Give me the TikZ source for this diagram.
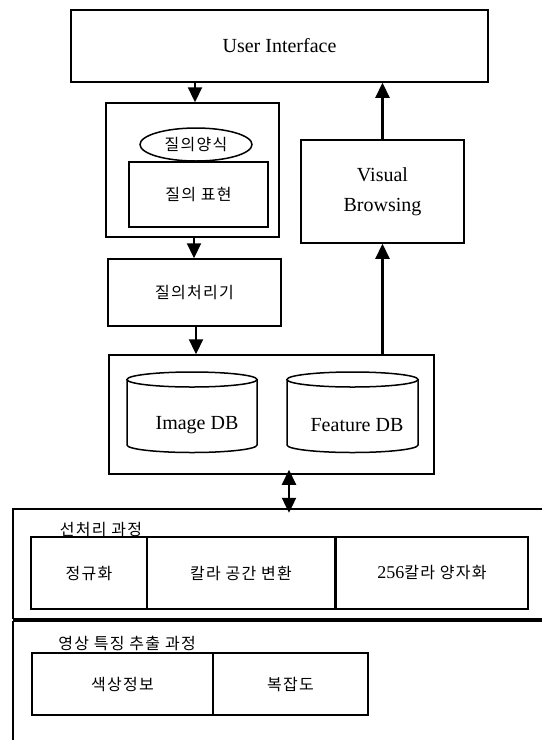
\documentclass[tikz,border=0pt]{standalone}
\usepackage{fontspec}
\setmainfont{Liberation Serif}
\newfontfamily\kr[LetterSpace=8]{Noto Sans CJK KR}
\usetikzlibrary{arrows.meta,shapes.geometric}
\begin{document}
\begin{tikzpicture}[x=1pt,y=-1pt,
  box/.style={draw,line width=1.5pt,inner sep=0pt},
  lat/.style={font=\fontsize{20}{30}\selectfont},
  kor/.style={font=\kr\fontsize{16}{20}\selectfont},
  arr/.style={line width=2.2pt,-{Triangle[length=15pt,width=14pt]}},
  darr/.style={line width=2.2pt,{Triangle[length=15pt,width=14pt]}-{Triangle[length=15pt,width=14pt]}},
  frame/.style={line width=1.5pt}]
\useasboundingbox (0,0) rectangle (542,740);
% top part
\node[box,lat,minimum width=417pt,minimum height=72pt] (ui) at (279.5,46) {User Interface};
\node[box,minimum width=173pt,minimum height=134pt] (q) at (192.5,170) {};
\node[box,kor,ellipse,minimum width=112pt,minimum height=33pt] (qform) at (196,144.5) {질의양식};
\node[box,kor,minimum width=139pt,minimum height=65pt] (qexpr) at (198.5,194.5) {질의 표현};
\node[box,lat,align=center,minimum width=163pt,minimum height=103pt] (vb) at (382.5,191.5) {Visual\\Browsing};
\node[box,kor,minimum width=173pt,minimum height=67pt] (qp) at (194.5,292.5) {질의처리기};
\node[box,minimum width=325pt,minimum height=119pt] (db) at (271.5,414.5) {};
% cylinders
\draw[frame] (192,379.5) ellipse [x radius=65, y radius=7.5];
\draw[frame] (127,379.5) -- (127,445) arc[start angle=180,end angle=0,x radius=65,y radius=7.5] -- (257,379.5);
\node[lat] (imgdb) at (197,425) {Image DB};
\draw[frame] (352.5,379.5) ellipse [x radius=65.5, y radius=7.5];
\draw[frame] (287,379.5) -- (287,445) arc[start angle=180,end angle=0,x radius=65.5,y radius=7.5] -- (418,379.5);
\node[lat] (featdb) at (357,425) {Feature DB};
% connectors
\coordinate (c1) at (195,0);
\coordinate (c3) at (194,0);
\coordinate (c4) at (196,0);
\coordinate (c6) at (289,0);
\draw[arr] (c1 |- ui.south) -- (c1 |- q.north);
\draw[arr] (vb.north) -- (vb.north |- ui.south);
\draw[arr] (c3 |- q.south) -- (c3 |- qp.north);
\draw[arr] (c4 |- qp.south) -- (c4 |- db.north);
\draw[arr] (vb.south |- db.north) -- (vb.south);
% preprocessing section
\node[minimum width=529pt,minimum height=110pt,inner sep=0pt] (pre) at (277.5,564) {};
\draw[frame] (pre.north east) -- (pre.north west) -- (pre.south west);
\draw[line width=2.5pt] (pre.south west) -- (pre.south east);
\draw[darr,shorten <=-5pt,shorten >=-4pt] (c6 |- db.south) -- (c6 |- pre.north);
\node[kor] (prelabel) at (101,530) {선처리 과정};
\node[box,kor,minimum width=116pt,minimum height=72pt] (norm) at (89,573) {정규화};
\node[box,kor,minimum width=188pt,minimum height=72pt] (conv) at (241,573) {칼라 공간 변환};
\node[box,kor,minimum width=192pt,minimum height=72pt] (quant) at (432,573) {{\rmfamily\fontsize{18}{20}\selectfont 256}칼라 양자화};
% feature extraction section
\node[minimum width=529pt,minimum height=119pt,inner sep=0pt] (feat) at (277.5,681) {};
\draw[line width=2pt] (feat.north east) -- (feat.north west);
\draw[frame] (feat.north west) -- (feat.south west);
\node[kor] (featlabel) at (127,643) {영상 특징 추출 과정};
\node[box,kor,minimum width=181pt,minimum height=62pt] (color) at (122.5,684) {색상정보};
\node[box,kor,minimum width=155pt,minimum height=62pt] (cplx) at (290.5,684) {복잡도};
\end{tikzpicture}
\end{document}
